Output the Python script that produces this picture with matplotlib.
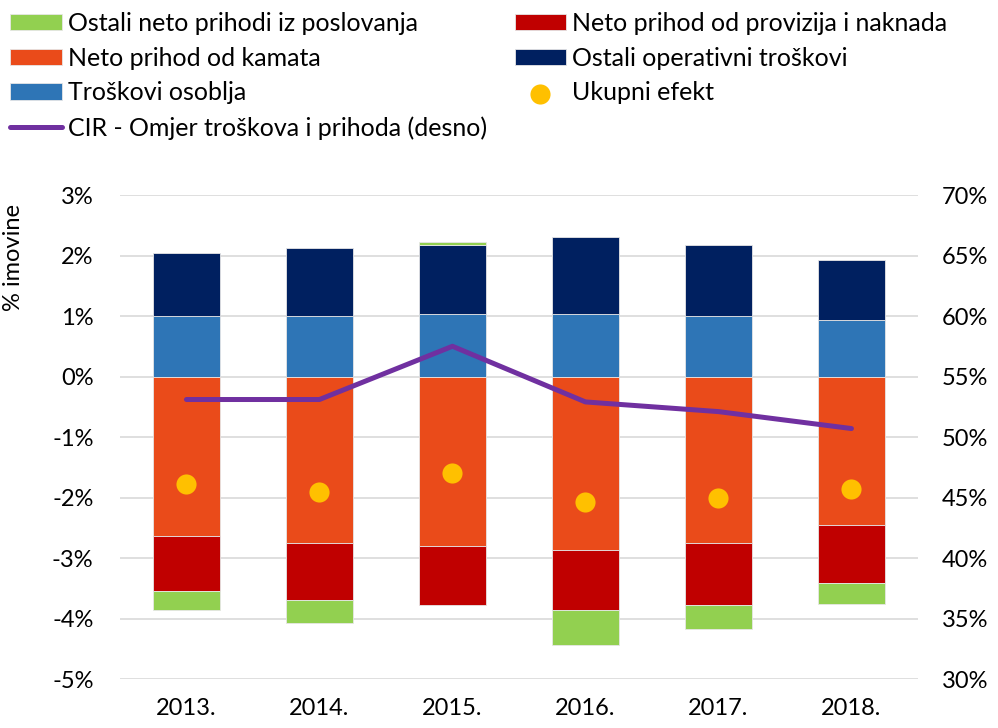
import matplotlib.pyplot as plt
import numpy as np

years = ['2013.', '2014.', '2015.', '2016.', '2017.', '2018.']

# % imovine
ostali_neto = [-0.31, -0.38, 0.06, -0.57, -0.40, -0.34]
kamata = [-2.63, -2.76, -2.80, -2.86, -2.76, -2.46]
provizije = [-0.92, -0.93, -0.97, -1.00, -1.01, -0.96]
osoblje = [1.00, 1.00, 1.04, 1.04, 1.00, 0.94]
ostali_oper = [1.04, 1.13, 1.13, 1.27, 1.18, 0.98]
ukupni = [-1.77, -1.91, -1.60, -2.08, -2.00, -1.86]
# CIR, %
cir = [53.1, 53.1, 57.5, 52.9, 52.1, 50.7]

plt.rcParams['font.family'] = ['Lato', 'DejaVu Sans']
plt.rcParams['font.size'] = 17

fig = plt.figure(figsize=(9.98, 7.28), dpi=100)
ax = fig.add_axes([0.1202, 0.0673, 0.7996, 0.6648])
ax2 = ax.twinx()

x = np.arange(len(years))
w = 0.5
pos = np.zeros(len(years))
neg = np.zeros(len(years))

# costs stack up, income stacks down
series = [
    ('Troškovi osoblja', osoblje, '#2E75B6'),
    ('Ostali operativni troškovi', ostali_oper, '#002060'),
    ('Neto prihod od kamata', kamata, '#EA4B1A'),
    ('Neto prihod od provizija i naknada', provizije, '#C00000'),
    ('Ostali neto prihodi iz poslovanja', ostali_neto, '#92D050'),
]
handles = {}
for name, vals, col in series:
    vals = np.array(vals)
    bottom = np.where(vals >= 0, pos, neg)
    b = ax.bar(x, vals, w, bottom=bottom, color=col, edgecolor='#E6E6E6',
               linewidth=0.6, label=name, zorder=2)
    handles[name] = b
    pos = pos + np.where(vals >= 0, vals, 0)
    neg = neg + np.where(vals < 0, vals, 0)

dots = ax.scatter(x, ukupni, s=210, color='#FFC000', zorder=3, linewidths=0,
                  label='Ukupni efekt')
line, = ax2.plot(x, cir, color='#7030A0', lw=3.6, solid_capstyle='round',
                 label='CIR - Omjer troškova i prihoda (desno)')

ax.set_xlim(-0.5, 5.5)
ax.set_ylim(-5, 3)
ax.set_yticks(range(-5, 4))
ax.set_yticklabels(['{}%'.format(v) for v in range(-5, 4)])
ax2.set_ylim(30, 70)
ax2.set_yticks(range(30, 71, 5))
ax2.set_yticklabels(['{}%'.format(v) for v in range(30, 71, 5)])
ax.set_xticks(x)
ax.set_xticklabels(years)

ax.set_axisbelow(True)
ax.grid(axis='y', color='#D9D9D9', lw=1.2)
for a in (ax, ax2):
    for s in a.spines.values():
        s.set_visible(False)
ax.tick_params(axis='both', length=0)
ax.tick_params(axis='y', pad=19)
ax.tick_params(axis='x', pad=14)
ax2.tick_params(length=0, pad=17)

ax.set_ylabel('% imovine', fontsize=17)
ax.yaxis.set_label_coords(-0.12, 0.87)

order = [handles['Ostali neto prihodi iz poslovanja'], handles['Neto prihod od kamata'],
         handles['Troškovi osoblja'], line,
         handles['Neto prihod od provizija i naknada'], handles['Ostali operativni troškovi'],
         dots]
fig.legend(handles=order, labels=[h.get_label() for h in order], ncol=2,
           loc='upper left', bbox_to_anchor=(0.008, 0.987), frameon=False,
           borderaxespad=0, borderpad=0.1, handlelength=2.05, handleheight=0.64,
           handletextpad=0.25, columnspacing=1.1, labelspacing=0.47, fontsize=18)

fig.savefig('out.png', dpi=100)
